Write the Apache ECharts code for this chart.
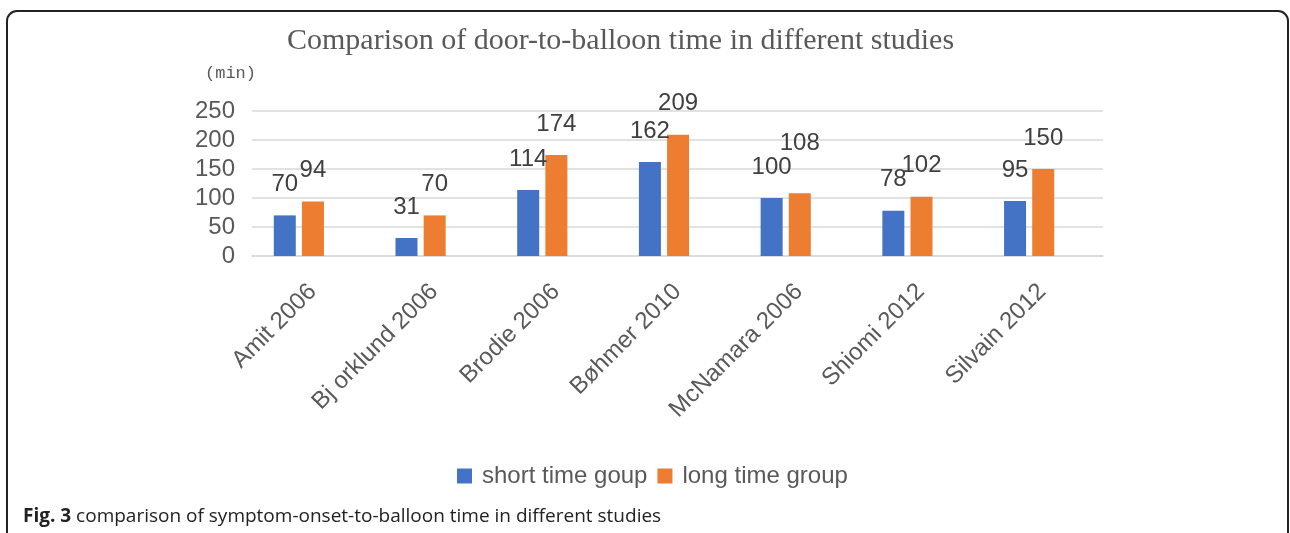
<!DOCTYPE html>
<html>
<head>
<meta charset="utf-8">
<title>door-to-balloon</title>
<script src="https://cdn.jsdelivr.net/npm/echarts@6/dist/echarts.min.js"></script>
<style>
  html, body { margin: 0; padding: 0; background: #fff; }
  #bar { width: 1290px; height: 533px; }
</style>
</head>
<body>
<div id="bar"></div>
<script>
// 数据
var studies = ["Amit 2006", "Bj orklund 2006", "Brodie 2006", "Bøhmer 2010", "McNamara 2006", "Shiomi 2012", "Silvain 2012"];
var shortTime = [70, 31, 114, 162, 100, 78, 95];
var longTime = [94, 70, 174, 209, 108, 102, 150];
var seriesNames = ["short time goup", "long time group"];

var grey = "#595959";

// 原图中 McNamara 的 108 标签被手动抬高了一些
var longData = longTime.map(function (v, i) {
  return i === 4 ? { value: v, label: { distance: 38 } } : v;
});

var myChart = echarts.init(document.getElementById("bar"));
myChart.setOption({
  animation: false,
  textStyle: { fontFamily: "Liberation Sans, Arial, sans-serif" },
  // grid 0: 网格线和坐标轴文字, grid 1: 柱子 (原图柱子略微偏左)
  grid: [
    { left: 252, right: 187, top: 111, bottom: 277 },
    { left: 238, right: 200, top: 111, bottom: 277 }
  ],
  legend: {
    left: 452,
    top: 459,
    itemWidth: 15,
    itemHeight: 15,
    itemGap: 10,
    icon: "rect",
    textStyle: { color: grey, fontSize: 24, padding: [0, 0, 0, 5] },
    data: seriesNames
  },
  xAxis: [
    {
      type: "category",
      gridIndex: 0,
      data: studies,
      axisLine: { lineStyle: { color: "#d9d9d9", width: 1.5 } },
      axisTick: { show: false },
      axisLabel: {
        rotate: 45,
        margin: 32,
        interval: 0,
        color: grey,
        fontSize: 24
      }
    },
    {
      type: "category",
      gridIndex: 1,
      data: studies,
      show: false
    }
  ],
  yAxis: [
    {
      type: "value",
      gridIndex: 0,
      min: 0,
      max: 250,
      interval: 50,
      axisLine: { show: false },
      axisTick: { show: false },
      splitLine: { lineStyle: { color: "#d9d9d9", width: 1.5 } },
      axisLabel: { color: grey, fontSize: 24, margin: 17 }
    },
    {
      type: "value",
      gridIndex: 1,
      min: 0,
      max: 250,
      interval: 50,
      show: false,
      splitLine: { show: false }
    }
  ],
  series: [
    {
      name: seriesNames[0],
      type: "bar",
      xAxisIndex: 1,
      yAxisIndex: 1,
      data: shortTime,
      barWidth: 22,
      barGap: "28%",
      itemStyle: { color: "#4472c4" },
      label: { show: true, position: "top", distance: 19, color: "#404040", fontSize: 24 }
    },
    {
      name: seriesNames[1],
      type: "bar",
      xAxisIndex: 1,
      yAxisIndex: 1,
      data: longData,
      barWidth: 22,
      itemStyle: { color: "#ed7d31" },
      label: { show: true, position: "top", distance: 19, color: "#404040", fontSize: 24 }
    }
  ],
  graphic: [
    {
      type: "rect",
      shape: { x: 7, y: 11, width: 1281, height: 700, r: 10 },
      style: { fill: "none", stroke: "#222", lineWidth: 2 },
      silent: true
    },
    {
      type: "text",
      left: 287,
      top: 26,
      style: {
        text: "Comparison of door-to-balloon time in different studies",
        font: "30px 'Liberation Serif', 'Times New Roman', serif",
        fill: grey
      }
    },
    {
      type: "text",
      left: 205,
      top: 65,
      style: {
        text: "(min)",
        font: "17px 'Liberation Mono', monospace",
        fill: grey
      }
    },
    {
      type: "text",
      left: 23,
      top: 507,
      style: {
        text: "{b|Fig. 3} comparison of symptom-onset-to-balloon time in different studies",
        fill: "#222",
        font: "19px 'Open Sans', sans-serif",
        rich: {
          b: { fontWeight: "bold", fontSize: 19, fontFamily: "Open Sans", fill: "#222" }
        }
      }
    }
  ]
});
</script>
</body>
</html>
